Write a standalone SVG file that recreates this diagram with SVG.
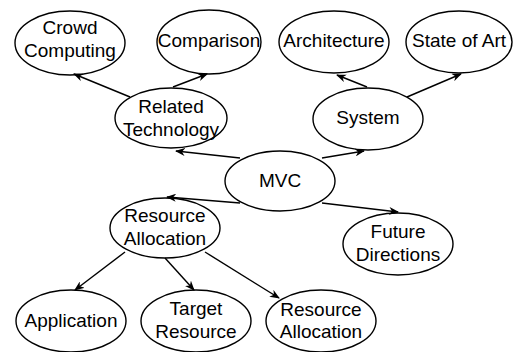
<svg xmlns="http://www.w3.org/2000/svg" width="515" height="352" viewBox="0 0 515 352">
<style>
.n ellipse{fill:#fff;stroke:#000;stroke-width:1.4}
.n text{font-family:"Liberation Sans",Arial,Helvetica,sans-serif;font-size:19px;fill:#000;text-anchor:middle}
.e path{fill:none;stroke:#000;stroke-width:1.4;marker-end:url(#arr)}
</style>
<defs>
<marker id="arr" viewBox="0 0 10 8" refX="9" refY="4" markerWidth="10" markerHeight="8" markerUnits="userSpaceOnUse" orient="auto">
<path d="M0,0 L10,4 L0,8 L3,4 z" fill="#000"/>
</marker>
</defs>
<g class="n" id="crowd"><ellipse cx="70" cy="43" rx="55" ry="32"/><text x="70" y="34">Crowd</text><text x="70" y="57">Computing</text></g>
<g class="n" id="comparison"><ellipse cx="209" cy="42" rx="52" ry="32"/><text x="209" y="47">Comparison</text></g>
<g class="n" id="related"><ellipse cx="171" cy="118" rx="56" ry="30"/><text x="171" y="113">Related</text><text x="171" y="136">Technology</text></g>
<g class="n" id="architecture"><ellipse cx="334" cy="42" rx="55" ry="31"/><text x="334" y="47">Architecture</text></g>
<g class="n" id="stateofart"><ellipse cx="459" cy="42" rx="53" ry="31"/><text x="459" y="47">State of Art</text></g>
<g class="n" id="system"><ellipse cx="368" cy="119" rx="55" ry="31"/><text x="368" y="124">System</text></g>
<g class="n" id="mvc"><ellipse cx="280" cy="181" rx="55" ry="30"/><text x="280" y="187">MVC</text></g>
<g class="n" id="resalloc"><ellipse cx="165" cy="228" rx="55" ry="30"/><text x="165" y="222">Resource</text><text x="165" y="245">Allocation</text></g>
<g class="n" id="future"><ellipse cx="398" cy="244" rx="55" ry="31"/><text x="398" y="238">Future</text><text x="398" y="261">Directions</text></g>
<g class="n" id="application"><ellipse cx="71" cy="321" rx="55" ry="31"/><text x="71" y="327">Application</text></g>
<g class="n" id="target"><ellipse cx="196" cy="321" rx="55" ry="31"/><text x="196" y="315">Target</text><text x="196" y="338">Resource</text></g>
<g class="n" id="resalloc2"><ellipse cx="321" cy="321" rx="55" ry="31"/><text x="321" y="316">Resource</text><text x="321" y="338">Allocation</text></g>
<g class="e">
<path d="M130,97 L74,74"/>
<path d="M173,87 L207,74"/>
<path d="M367,87 L337,75"/>
<path d="M407,97 L461,74"/>
<path d="M240,158 L176,151"/>
<path d="M322,158 L364,151"/>
<path d="M240,203 L167,197"/>
<path d="M322,203 L398,212"/>
<path d="M125,252 L75,290"/>
<path d="M165,258 L194,290"/>
<path d="M205,252 L279,298"/>
</g>
</svg>
